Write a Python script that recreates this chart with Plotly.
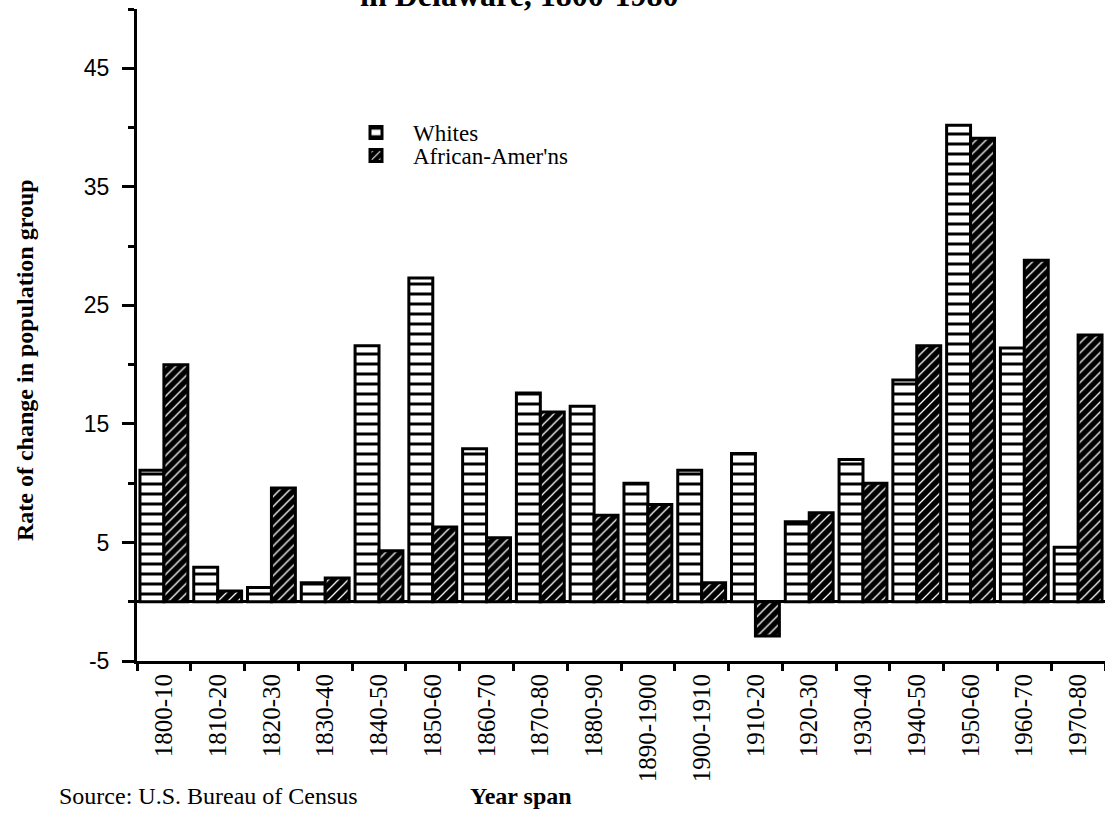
import plotly.graph_objects as go

categories = ["1800-10", "1810-20", "1820-30", "1830-40", "1840-50", "1850-60",
              "1860-70", "1870-80", "1880-90", "1890-1900", "1900-1910", "1910-20",
              "1920-30", "1930-40", "1940-50", "1950-60", "1960-70", "1970-80"]
whites = [11.1, 2.9, 1.2, 1.6, 21.6, 27.3, 12.9, 17.6, 16.5, 10.0, 11.1, 12.5,
          6.75, 12.0, 18.7, 40.2, 21.4, 4.6]
african = [20.0, 0.9, 9.6, 2.0, 4.3, 6.3, 5.4, 16.0, 7.3, 8.2, 1.6, -2.9,
           7.5, 10.0, 21.6, 39.1, 28.8, 22.5]
y_tick_values = [-5, 5, 15, 25, 35, 45]
y_tick_labels = ["-5", "5", "15", "25", "35", "45"]

SERIF = "Liberation Serif"
SANS = "Liberation Sans"

W, H = 1105, 815
PL, PT, PR, PB = 137, 9, 1105, 661          # plot area in page pixels
ML, MT = PL, PT
MR = W - PR
MB = H - PB
PW = PR - PL
PH = PB - PT


def px_x(p):
    return (p - PL) / PW


def px_y(p):
    return (PB - p) / PH


fig = go.Figure()
fig.add_trace(go.Bar(
    x=categories, y=whites, name="Whites", legend="legend", showlegend=True,
    marker=dict(color="white", line=dict(color="black", width=3),
                pattern=dict(shape="-", fgcolor="black", bgcolor="white",
                             size=10, solidity=0.3, fillmode="replace")),
))
fig.add_trace(go.Bar(
    x=categories, y=african, name="African-Amer'ns", legend="legend2", showlegend=True,
    marker=dict(color="black", line=dict(color="black", width=3),
                pattern=dict(shape="/", fgcolor="white", bgcolor="black",
                             size=7, solidity=0.18, fillmode="replace")),
))

leg_common = dict(xanchor="left", yanchor="top",
                  font=dict(family=SERIF, size=23, color="black"),
                  bgcolor="rgba(0,0,0,0)", itemwidth=64)

fig.update_layout(
    width=W, height=H,
    margin=dict(l=ML, r=MR, t=MT, b=MB, pad=0),
    plot_bgcolor="white", paper_bgcolor="white",
    barmode="group", bargap=0.11, bargroupgap=0.0,
    showlegend=True,
    legend=dict(x=px_x(339), y=px_y(111), **leg_common),
    legend2=dict(x=px_x(339), y=px_y(134), **leg_common),
)

fig.update_xaxes(
    type="category", showline=True, linecolor="black", linewidth=3,
    ticks="outside", tickson="boundaries", ticklen=7, tickwidth=3, tickcolor="black",
    tickangle=-90, tickfont=dict(family=SERIF, size=25, color="black"),
    showgrid=False, mirror=False,
)
fig.update_yaxes(
    range=[-5, 50], showline=True, linecolor="black", linewidth=3,
    tickmode="array", tickvals=y_tick_values, ticktext=y_tick_labels,
    ticks="outside", ticklen=12, tickwidth=3, tickcolor="black",
    tickfont=dict(family=SANS, size=23, color="black"),
    ticklabelstandoff=8,
    minor=dict(tick0=0, dtick=5, ticks="outside", ticklen=6, tickwidth=3,
               tickcolor="black", showgrid=False),
    showgrid=False, zeroline=True, zerolinecolor="black", zerolinewidth=3,
)

fig.add_annotation(
    text="<b>in Delaware, 1800-1980</b>", xref="paper", yref="paper",
    x=px_x(358), y=px_y(15), xanchor="left", yanchor="bottom", showarrow=False,
    font=dict(family=SERIF, size=32, color="black"),
)
fig.add_annotation(
    text="<b>Rate of change in population group</b>", xref="paper", yref="paper",
    x=px_x(25), y=px_y(360), xanchor="center", yanchor="middle", textangle=-90,
    showarrow=False, font=dict(family=SERIF, size=24, color="black"),
)
fig.add_annotation(
    text="<b>Year span</b>", xref="paper", yref="paper",
    x=px_x(521), y=px_y(796), xanchor="center", yanchor="middle",
    showarrow=False, font=dict(family=SERIF, size=24, color="black"),
)
fig.add_annotation(
    text="Source: U.S. Bureau of Census", xref="paper", yref="paper",
    x=px_x(360), y=px_y(796), xanchor="right", yanchor="middle",
    showarrow=False, font=dict(family=SERIF, size=24, color="black"),
)

# remove the default 8px page margin so the figure sits at the window origin
fig.write_html("out.html", config={"displayModeBar": False},
               post_script="document.body.style.margin='0px';")
